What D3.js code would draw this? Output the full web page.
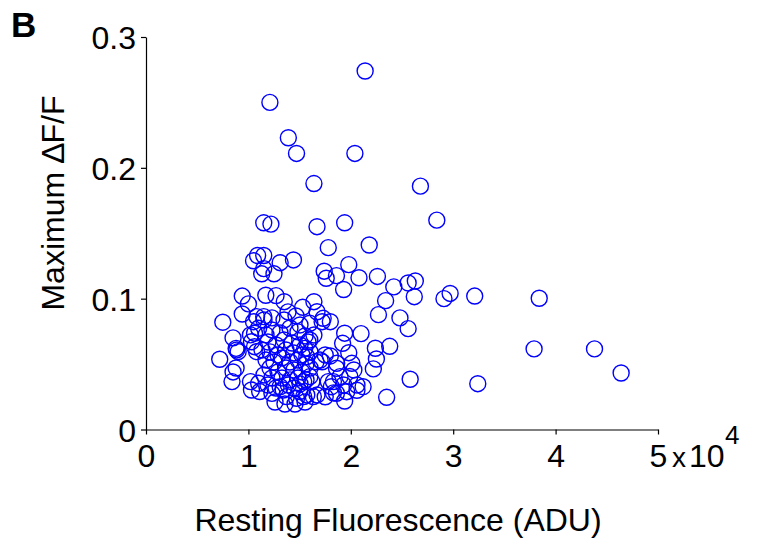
<!DOCTYPE html>
<html><head><meta charset="utf-8">
<script src="https://cdn.jsdelivr.net/npm/d3@7"></script>
<style>body{margin:0;background:#fff}svg{display:block}text{font-family:"Liberation Sans",Arial,sans-serif}</style>
</head><body><svg id="c" width="768" height="544"></svg>
<script>
// Resting fluorescence in units of 10^4 ADU
const restingF = [
2.14,1.21,1.39,1.47,2.04,1.64,2.68,1.15,1.22,1.67,1.94,2.84,1.78,2.18,1.09,1.15,1.05,1.31,1.44,1.98,
1.15,1.13,1.25,1.74,1.76,1.86,2.08,2.26,1.93,2.42,2.56,2.63,2.62,2.34,2.91,2.97,3.21,3.84,0.94,1.17,
1.27,1.00,1.35,1.53,1.64,1.67,0.94,2.27,2.48,1.73,1.08,1.15,0.75,2.56,1.80,1.94,2.10,1.92,1.98,2.24,
2.38,2.25,2.22,1.80,2.01,2.03,1.86,1.83,2.06,2.12,1.86,1.94,2.35,2.58,3.24,3.79,4.38,4.64,1.60,1.72,
1.64,1.75,1.72,1.55,1.57,1.66,1.70,1.99,2.06,1.93,1.96,1.83,1.67,1.75,1.57,1.50,1.60,1.62,1.54,1.78,
1.81,0.85,0.88,0.90,0.72,0.85,0.88,0.84,1.02,1.10,1.11,1.23,1.05,1.10,1.06,1.02,1.03,1.06,1.08,1.37,
1.47,1.54,1.31,1.39,1.34,0.886,1.03,1.634,1.60,1.862,1.895,
1.172,1.230,1.309,1.406,1.484,1.553,
1.191,1.270,1.348,1.426,1.504,1.582,
1.133,1.211,1.289,1.367,1.445,1.523,1.602,
1.172,1.250,1.328,1.406,1.484,1.563,
1.211,1.289,1.367,1.445,1.523,1.602,
1.152,1.230,1.328,1.406,1.484,1.563,
1.191,1.270,1.445,1.504,
1.260,1.357,1.455,1.553,
1.152,1.230,1.348,1.465,1.504,1.387
];
// Maximum dF/F
const maxDFF = [
0.274,0.250,0.223,0.211,0.211,0.188,0.186,0.158,0.157,0.155,0.158,0.160,0.139,0.141,0.133,0.133,0.129,0.1275,0.1296,0.126,
0.123,0.119,0.119,0.121,0.1156,0.1176,0.116,0.117,0.107,0.109,0.112,0.1135,0.1015,0.0985,0.100,0.104,0.102,0.1003,0.102,0.1026,
0.1023,0.096,0.0977,0.0934,0.0977,0.090,0.0883,0.0878,0.0853,0.085,0.0863,0.0863,0.082,0.0771,0.0824,0.0736,0.0733,0.0659,0.0587,0.0621,
0.0636,0.0539,0.0463,0.0562,0.0506,0.0455,0.0468,0.0366,0.034,0.0327,0.0277,0.0218,0.0246,0.0384,0.035,0.0616,0.0616,0.0432,0.0812,0.0824,
0.0722,0.057,0.0518,0.062,0.0557,0.0518,0.0531,0.0405,0.030,0.034,0.0289,0.028,0.0264,0.025,0.0264,0.029,0.0404,0.0366,0.0366,0.0366,
0.0327,0.070,0.062,0.0595,0.0537,0.044,0.047,0.0366,0.0366,0.0353,0.029,0.0276,0.0824,0.0774,0.0736,0.0723,0.0671,0.0633,0.0595,0.0251,
0.0239,0.0251,0.0327,0.034,0.0302,0.0608,0.0302,0.0251,0.0684,0.0506,0.0404,
0.0723,0.0761,0.0738,0.0776,0.0746,0.0715,
0.0669,0.0646,0.0684,0.0661,0.0646,0.0669,
0.0608,0.0593,0.0570,0.0608,0.0585,0.0570,0.0593,
0.0531,0.0516,0.0547,0.0516,0.0531,0.0501,
0.0470,0.0440,0.0470,0.0455,0.0440,0.0470,
0.0417,0.0394,0.0394,0.0379,0.0394,0.0379,
0.0340,0.0317,0.0317,0.0348,
0.0210,0.0195,0.0195,0.0210,
0.0837,0.0853,0.0837,0.0868,0.0799,0.0899
];
const xTicks = [0,1,2,3,4,5];
const yTicks = [0,0.1,0.2,0.3];
const xLabel = "Resting Fluorescence (ADU)";
const yLabel = "Maximum \u2206F/F";
const panelLabel = "B";

const svg = d3.select("#c");
const x = d3.scaleLinear().domain([0,5]).range([146,658]);
const y = d3.scaleLinear().domain([0,0.3]).range([429.5,37]);
const FS = 32;

const gx = svg.append("g").attr("transform","translate(0,429.5)")
  .call(d3.axisBottom(x).tickValues(xTicks).tickSize(5).tickSizeOuter(0).tickPadding(10).tickFormat(d3.format("d")));
const gy = svg.append("g").attr("transform","translate(146,0)")
  .call(d3.axisLeft(y).tickValues(yTicks).tickSize(5).tickSizeOuter(0).tickPadding(5).tickFormat(d=>d===0?"0":d3.format(".1f")(d)));
[gx,gy].forEach(g=>{
  g.selectAll("path,line").attr("stroke","#000").attr("stroke-width",1.2);
  g.selectAll("text").attr("fill","#000").style("font-size",FS+"px").style("font-family","'Liberation Sans',Arial,sans-serif");
});
gx.selectAll("text").attr("dy","0.71em");
gy.selectAll("text").attr("dy","0.36em");

// x 10^4 multiplier after the last tick
svg.append("text").attr("x",x(5)+14).attr("y",467).style("font-size","28px").attr("fill","#000").text("x");
svg.append("text").attr("x",x(5)+31).attr("y",467).style("font-size",FS+"px").attr("fill","#000").text("10");
svg.append("text").attr("x",x(5)+67).attr("y",444).style("font-size","26px").attr("fill","#000").text("4");

svg.append("text").attr("x",(x(0)+x(5))/2-4).attr("y",531).attr("text-anchor","middle")
  .style("font-size","32px").attr("fill","#000").text(xLabel);
svg.append("text").attr("transform","translate(64,203) rotate(-90)").attr("text-anchor","middle")
  .style("font-size","32px").attr("fill","#000").text(yLabel);
svg.append("text").attr("x",11).attr("y",37).style("font-size","35px").style("font-weight","bold").attr("fill","#000").text(panelLabel);

svg.append("g").selectAll("circle").data(restingF.map((v,i)=>[v,maxDFF[i]])).join("circle")
  .attr("cx",d=>x(d[0])).attr("cy",d=>y(d[1])).attr("r",8)
  .attr("fill","none").attr("stroke","#0000ff").attr("stroke-width",1.4);
</script></body></html>
